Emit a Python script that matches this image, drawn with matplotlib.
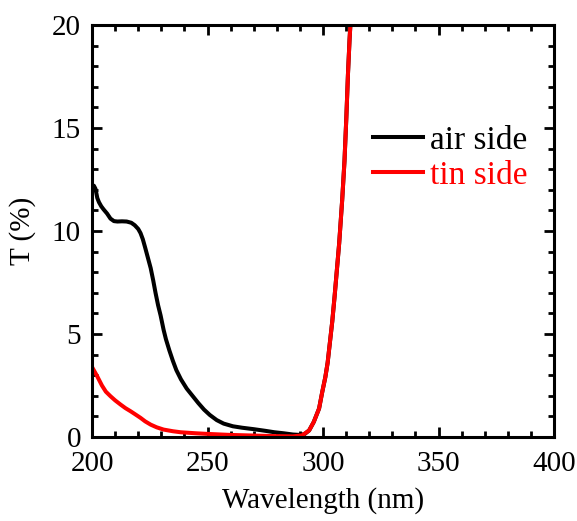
import matplotlib
matplotlib.use("Agg")
import matplotlib.pyplot as plt
from matplotlib.ticker import MultipleLocator

plt.rcParams['font.family'] = ['Liberation Serif', 'DejaVu Serif']

# transmittance spectra (wavelength in nm, T in %)
wl_air = [200, 200.8, 201.5, 202.3, 203, 204, 205, 206.5, 208, 209.5, 211, 213,
          215, 217, 218.5, 220, 221, 222, 223, 224.2, 225.4, 226.5, 227.5, 228.6,
          229.7, 231, 232, 233.5, 235, 236.5, 238.5, 241, 243.5, 246, 248.5, 251,
          254, 257, 261, 265, 270, 275, 279, 283, 287, 290, 292, 294, 296, 298.3,
          299.7, 301, 302, 303, 304, 305, 306, 307, 308.3, 309.3, 310.1, 310.8,
          311.5, 312]
t_air = [12.15, 12.2, 12.05, 11.6, 11.4, 11.2, 11.05, 10.85, 10.6, 10.48, 10.46, 10.47,
         10.46, 10.4, 10.28, 10.1, 9.9, 9.6, 9.2, 8.7, 8.2, 7.6, 7.0, 6.4,
         5.9, 5.2, 4.75, 4.2, 3.7, 3.25, 2.8, 2.35, 2.0, 1.65, 1.33, 1.07,
         0.82, 0.65, 0.52, 0.45, 0.38, 0.3, 0.23, 0.18, 0.12, 0.1, 0.14, 0.32, 0.73, 1.38,
         2.2, 2.9, 3.6, 4.6, 5.6, 6.8, 8.1, 9.4, 11.5, 13.4, 15.5, 17.6,
         19.3, 20.3]

wl_tin = [200, 201, 202.2, 204.3, 206, 208, 210, 212.3, 214.5, 216.7, 219, 221,
          223, 225.4, 228, 231, 235, 238.4, 245, 250, 260, 270, 280, 287, 291,
          294, 296, 298.3, 299.7, 301, 302, 303, 304, 305, 306, 307, 308.3, 309.3,
          310.1, 310.8, 311.5, 312]
t_tin = [3.4, 3.2, 2.96, 2.5, 2.2, 1.98, 1.78, 1.58, 1.4, 1.25, 1.08, 0.93,
         0.76, 0.6, 0.47, 0.36, 0.28, 0.23, 0.18, 0.15, 0.1, 0.07, 0.04, 0.03, 0.08,
         0.32, 0.73, 1.38, 2.2, 2.9, 3.6, 4.6, 5.6, 6.8, 8.1, 9.4, 11.5, 13.4,
         15.5, 17.6, 19.3, 20.3]

fig = plt.figure(figsize=(5.77, 5.21), dpi=100)
ax = fig.add_axes([92 / 577, 1 - 437 / 521, 462 / 577, 412 / 521])

ax.plot(wl_air, t_air, color='black', lw=2.9, label='air side')
ax.plot(wl_tin, t_tin, color='#ff0000', lw=2.9, label='tin side')

ax.set_xlim(200, 400)
ax.set_ylim(0, 20)
ax.xaxis.set_major_locator(MultipleLocator(50))
ax.xaxis.set_minor_locator(MultipleLocator(10))
ax.yaxis.set_major_locator(MultipleLocator(5))
ax.yaxis.set_minor_locator(MultipleLocator(1))

for s in ax.spines.values():
    s.set_linewidth(2.2)
ax.tick_params(which='both', direction='in', top=True, right=True, width=2.0,
               labelsize=21)
ax.tick_params(which='major', length=7)
ax.tick_params(axis='x', which='major', pad=10)
ax.tick_params(axis='y', which='major', pad=8)
ax.tick_params(which='minor', length=4)

ax.set_xlabel('Wavelength (nm)', fontsize=21, labelpad=7)
ax.set_ylabel('T (%)', fontsize=21, labelpad=11)

leg = ax.legend(loc='upper left', bbox_to_anchor=(0.608, 0.757), frameon=False,
                fontsize=24, handlelength=1.5, handletextpad=0.2,
                labelspacing=0.15, borderpad=0, borderaxespad=0,
                labelcolor='linecolor')
for h in leg.get_lines():
    h.set_linewidth(2.9)

fig.savefig('out.png', dpi=100)
